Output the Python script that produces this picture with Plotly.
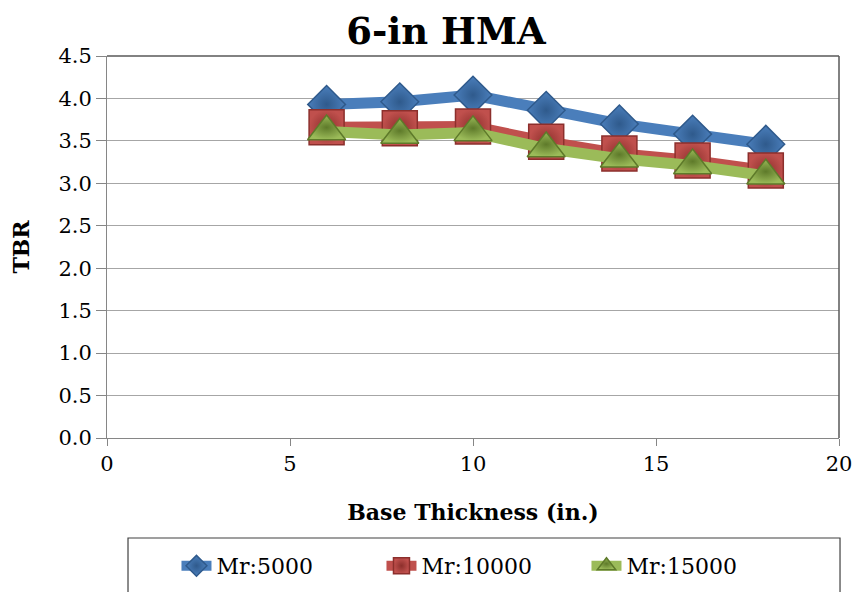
import plotly.graph_objects as go

thickness = [6, 8, 10, 12, 14, 16, 18]
mr5000 = [3.93, 3.96, 4.04, 3.86, 3.70, 3.58, 3.46]
mr10000 = [3.66, 3.65, 3.67, 3.49, 3.35, 3.27, 3.15]
mr15000 = [3.61, 3.57, 3.60, 3.41, 3.29, 3.21, 3.09]
series_names = ["Mr:5000", "Mr:10000", "Mr:15000"]
y_ticks = [0.0, 0.5, 1.0, 1.5, 2.0, 2.5, 3.0, 3.5, 4.0, 4.5]
x_ticks = [0, 5, 10, 15, 20]

SERIF = "DejaVu Serif"

styles = [
    dict(color="#4A7EBB", edge="#2F5A8C", symbol="diamond", size=29),
    dict(color="#C0504D", edge="#8C2F2C", symbol="square", size=35),
    dict(color="#9BBB59", edge="#5E7A2A", symbol="triangle-up", size=33),
]

fig = go.Figure()
for name, vals, st in zip(series_names, [mr5000, mr10000, mr15000], styles):
    fig.add_trace(go.Scatter(
        x=thickness, y=vals, name=name, mode="lines+markers",
        line=dict(color=st["color"], width=11),
        marker=dict(symbol=st["symbol"], size=st["size"], color=st["color"],
                    line=dict(color=st["edge"], width=1.5),
                    gradient=dict(type="radial", color=st["edge"])),
    ))

fig.update_layout(
    width=852, height=584,
    paper_bgcolor="white", plot_bgcolor="white",
    margin=dict(l=99, r=21, t=48, b=154, autoexpand=False),
    title=dict(text="<b>6-in HMA</b>", x=0.514, xanchor="center", y=0.961, yanchor="middle",
               font=dict(family=SERIF, size=37, color="black")),
    font=dict(family=SERIF, color="black"),
    xaxis=dict(range=[0, 20], tickvals=x_ticks, ticks="outside", ticklen=7, tickcolor="#868686",
               showline=True, linecolor="#868686", linewidth=1, showgrid=False, zeroline=False,
               automargin=False,
               tickfont=dict(family=SERIF, size=21, color="black"),
               title=dict(text="<b>Base Thickness (in.)</b>", font=dict(family=SERIF, size=22, color="black"),
                          standoff=29)),
    yaxis=dict(range=[0, 4.5], tickvals=y_ticks, tickformat=".1f", ticks="outside", ticklen=10,
               tickcolor="#868686", showline=True, linecolor="#868686", linewidth=1,
               showgrid=True, gridcolor="#A6A6A6", gridwidth=1, zeroline=False,
               automargin=False,
               tickfont=dict(family=SERIF, size=21, color="black"),
               title=dict(text="<b>TBR</b>", font=dict(family=SERIF, size=22, color="black"), standoff=23)),
    legend=dict(orientation="h", x=0.515, xanchor="center", y=-0.335, yanchor="middle",
                bgcolor="rgba(0,0,0,0)", borderwidth=0,
                entrywidth=160, entrywidthmode="pixels",
                font=dict(family=SERIF, size=22, color="black")),
    showlegend=True,
)

# plot area top/right border and legend frame
fig.add_shape(type="line", xref="paper", yref="paper", x0=0, x1=1, y0=1, y1=1,
              line=dict(color="#595959", width=1.5))
fig.add_shape(type="line", xref="paper", yref="paper", x0=1, x1=1, y0=0, y1=1,
              line=dict(color="#595959", width=1.5))
fig.add_shape(type="rect", xref="paper", yref="paper", x0=0.0287, x1=1.0014, y0=-0.2618, y1=-0.45,
              line=dict(color="#404040", width=1.2), fillcolor="rgba(0,0,0,0)")

fig.write_html("out.html")
